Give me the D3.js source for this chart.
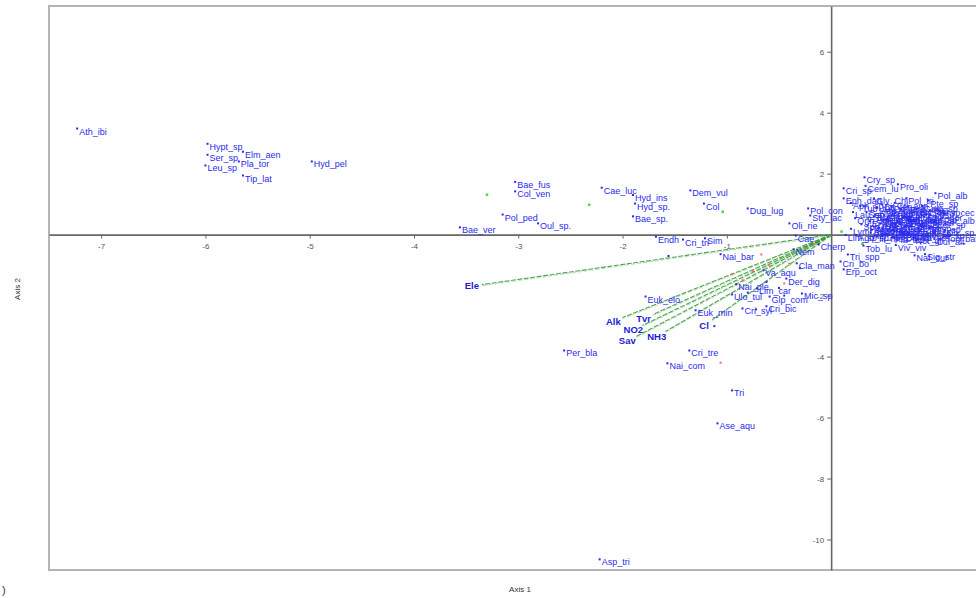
<!DOCTYPE html>
<html><head><meta charset="utf-8">
<script src="https://cdn.jsdelivr.net/npm/d3@7"></script>
<style>
body{margin:0;background:#fff;}
svg{display:block;font-family:"Liberation Sans",Arial,sans-serif;}
</style></head>
<body>
<svg id="chart" width="976" height="598"></svg>
<script>
// ---- data ----
const xTicks = [-7,-6,-5,-4,-3,-2,-1];
const yTicks = [6,4,2,-2,-4,-6,-8,-10];
const axisTitles = ["Axis 1","Axis 2"];

// species: [name, axis1, axis2]
const speciesNames = ["Ath_ibi","Hypt_sp","Ser_sp","Elm_aen","Leu_sp","Pla_tor","Tip_lat","Hyd_pel",
 "Bae_fus","Col_ven","Pol_ped","Oul_sp.","Bae_ver","Cae_luc","Hyd_ins","Hyd_sp.","Bae_sp.","Dem_vul","Col","Dug_lug",
 "Endh","Cri_tri","Sim","Nai_bar","Oli_rie","Pol_con","Sty_lac","Cae","Nem","Cherp","Cla_man","Cri_bo","Tri_spp","Erp_oct",
 "Va_aqu","Der_dig","Nai_ple","Lim_car","Ulo_tul","Glp_com","Mic_sp","Cri_syl","Cri_bic","Euk_min","Euk_elo",
 "Per_bla","Cri_tre","Nai_com","Tri","Ase_aqu","Asp_tri",
 "Cry_sp","Cri_sp","Cem_lu","Pro_oli","Pol_alb","Eph_dan","Gly_Chi","Pol_tri","Pte_sp","Rhy_cec","Par_alb",
 "Tub_tub","Lim_hof","Pot_ant","Bae_rho","Gam_sp","Ser_per","Tan_sp","Chi_pl","Mic_pus","Cae_hor","Orth_sp","Pis_sp",
 "Eis_fet","Lep_mar","Hep_sul","Cor_sp","Sph_cor","Rhy_sp","Sim_orn","Hal_sp","Psy_sp","Lym_sta","Rad_ova","Phy_fon",
 "Gyr_alb","Ana_sp","Cal_sp","Dix_sp","Ago_sp","Ili_mon","Pla_alb","Not_gl","Cul_alt","Ton_bat","Tob_lu","Viv_viv",
 "Naf_cur","Sig_str","Lim_sp","Bit_ten","Val_pis","Ery_oct","Pro_sp","Dre_pol","Gly_sp","Oec_sp","Cri_ann","Lau_sp","Aph_sp",
 "Pot_sp","Lim_cl","Hyd_ang","Psa_sp","Cyr_sp","Sph_sp","Ste_sp",
 "Bra_sow","Pot_pec","Nai_eli","Sty_her","Dic_sp","Eri_sp","Tha_sp","Pro_pu","Mac_sp","Cae_sp","Dry_sp","Hel_sp","Ase_sp","Bit_sp"];
const speciesAxis1 = [-7.23,-5.98,-5.98,-5.64,-6.0,-5.68,-5.64,-4.98,
 -3.03,-3.03,-3.15,-2.81,-3.56,-2.2,-1.9,-1.88,-1.9,-1.35,-1.22,-0.8,
 -1.68,-1.42,-1.21,-1.06,-0.4,-0.22,-0.2,-0.34,-0.36,-0.12,-0.33,0.09,0.16,0.12,
 -0.65,-0.43,-0.91,-0.71,-0.95,-0.59,-0.28,-0.85,-0.62,-1.3,-1.78,
 -2.56,-1.36,-1.57,-0.95,-1.09,-2.22,
 0.32,0.12,0.33,0.64,1.0,0.12,0.41,0.72,0.93,1.02,1.06,
 0.28,0.44,0.58,0.74,0.87,0.34,0.49,0.61,0.79,0.91,0.23,0.41,
 0.54,0.69,0.84,0.99,0.29,0.47,0.61,0.77,0.94,0.19,0.39,0.54,
 0.69,0.84,0.99,1.09,0.24,0.44,0.59,0.79,0.99,1.08,0.31,0.62,
 0.8,0.9,0.14,0.49,0.67,0.37,0.57,0.74,0.51,0.89,0.61,0.21,0.19,
 0.35,0.66,0.52,0.8,0.45,0.7,0.95,
 0.42,0.56,0.68,0.82,0.5,0.64,0.76,0.46,0.6,0.72,0.86,0.38,0.54,0.7];
const speciesAxis2 = [3.48,2.98,2.62,2.72,2.27,2.4,1.94,2.4,
 1.73,1.42,0.66,0.37,0.24,1.54,1.3,1.02,0.6,1.45,1.02,0.86,
 -0.07,-0.16,-0.12,-0.64,0.37,0.86,0.63,-0.03,-0.48,-0.32,-0.94,-0.88,-0.65,-1.14,
 -1.17,-1.44,-1.63,-1.76,-1.96,-2.03,-1.93,-2.42,-2.35,-2.48,-2.03,
 -3.8,-3.8,-4.22,-5.11,-6.19,-10.65,
 1.88,1.52,1.6,1.65,1.36,1.19,1.19,1.19,1.12,0.82,0.53,
 0.94,0.89,0.94,0.92,0.94,0.74,0.76,0.72,0.74,0.66,0.54,0.59,
 0.54,0.56,0.49,0.42,0.34,0.36,0.34,0.29,0.24,0.19,0.16,0.14,
 0.09,0.12,0.06,0.14,-0.01,-0.06,-0.08,-0.11,-0.14,-0.06,-0.36,-0.34,
 -0.68,-0.64,-0.01,0.99,0.82,0.44,0.24,0.44,0.64,0.59,1.04,0.74,1.04,
 0.3,0.1,0.5,0.0,0.2,0.6,0.8,
 0.66,0.82,0.62,0.84,0.46,0.4,0.5,0.22,0.16,0.3,0.28,0.06,0.02,0.0];

// environmental variables (biplot arrows)
const envNames = ["Ele","Alk","Tvr","NO2","Sav","NH3","Cl"];
const envAxis1 = [-3.35,-2.0,-1.71,-1.81,-1.87,-1.59,-1.14];
const envAxis2 = [-1.64,-2.72,-2.62,-2.98,-3.34,-3.18,-2.79];

// sample sites
const greenSitesAxis1 = [-3.3,-2.32,-1.04,0.35,0.1,0.3,0.6];
const greenSitesAxis2 = [1.31,0.98,0.75,0.55,0.1,-0.3,0.2];
const redSitesAxis1 = [-1.06,-0.67,-0.6,-0.4,-0.85,-0.75,-0.25,-0.45,-0.15,-0.95];
const redSitesAxis2 = [-4.2,-0.65,-1.0,-0.95,-1.5,-1.2,-0.5,-1.6,-0.3,-1.3];
const blueSitesAxis1 = [-1.56,-0.5,-0.72,-0.45,-1.12,-0.62,-0.3,-0.8];
const blueSitesAxis2 = [-0.7,-1.75,-2.45,-2.0,-3.0,-1.55,-1.1,-1.9];

// ---- drawing ----
const svg = d3.select("#chart");
const x = d3.scaleLinear().domain([-7.5,1.6]).range([49,998]);
const y = d3.scaleLinear().domain([7.5,-11.0]).range([6,570]);
const fmt = d => String(d);

// frame
svg.append("rect").attr("x",x(-7.5)).attr("y",y(7.5))
  .attr("width",x(1.6)-x(-7.5)).attr("height",y(-11)-y(7.5))
  .attr("fill","none").attr("stroke","#b4b4b4").attr("stroke-width",2);

// axes through origin
const gx = svg.append("g").attr("transform",`translate(0,${y(0)})`)
  .call(d3.axisBottom(x).tickValues(xTicks).tickSize(4).tickSizeOuter(0).tickFormat(fmt));
const gy = svg.append("g").attr("transform",`translate(${x(0)},0)`)
  .call(d3.axisLeft(y).tickValues(yTicks).tickSize(4).tickSizeOuter(0).tickFormat(fmt));
[gx,gy].forEach(g=>{
  g.select(".domain").attr("stroke","#666").attr("stroke-width",1.6);
  g.selectAll(".tick line").attr("stroke","#666");
  g.selectAll(".tick text").attr("fill","#555").style("font-size","8px");
});
gx.selectAll(".tick text").attr("dy","0.9em");

// axis titles
svg.append("text").attr("x",520).attr("y",592).attr("text-anchor","middle")
  .style("font-size","8px").attr("fill","#333").text(axisTitles[0]);
svg.append("text").attr("transform","translate(20,289) rotate(-90)").attr("text-anchor","middle")
  .style("font-size","8px").attr("fill","#333").text(axisTitles[1]);
svg.append("text").attr("x",2).attr("y",594).style("font-size","11px").attr("fill","#333").text(")");

// env arrows
const envG = svg.append("g");
envNames.forEach((n,i)=>{
  const ex=x(envAxis1[i]), ey=y(envAxis2[i]);
  envG.append("line").attr("x1",x(0)).attr("y1",y(0)).attr("x2",ex).attr("y2",ey)
    .attr("stroke","#3d9a3d").attr("stroke-width",1.1).attr("stroke-dasharray","5,1.5").attr("opacity",0.9);
  envG.append("line").attr("x1",x(0)).attr("y1",y(0)+1.2).attr("x2",ex).attr("y2",ey+1.2)
    .attr("stroke","#6cbf6c").attr("stroke-width",0.8).attr("stroke-dasharray","4,2").attr("opacity",0.6);
});

// sites
function dots(xs,ys,col,r){
  svg.append("g").selectAll("rect").data(xs.map((v,i)=>[v,ys[i]])).join("rect")
    .attr("x",d=>x(d[0])-r/2).attr("y",d=>y(d[1])-r/2).attr("width",r).attr("height",r).attr("fill",col);
}
dots(greenSitesAxis1,greenSitesAxis2,"#44dd44",2.5);
dots(redSitesAxis1,redSitesAxis2,"#ff6666",2);
dots(blueSitesAxis1,blueSitesAxis2,"#2a2ae0",2);

// species
const spG = svg.append("g");
const sp = speciesNames.map((n,i)=>({n,a:speciesAxis1[i],b:speciesAxis2[i]}));
spG.selectAll("rect").data(sp).join("rect")
  .attr("x",d=>x(d.a)-1).attr("y",d=>y(d.b)-1).attr("width",2).attr("height",2).attr("fill","#2a2ae0");
spG.selectAll("text").data(sp).join("text")
  .attr("x",d=>x(d.a)+2).attr("y",d=>y(d.b)+6)
  .attr("fill","#2a2aee").style("font-size","9px").text(d=>d.n);

// env labels
svg.append("g").selectAll("text").data(envNames.map((n,i)=>({n,a:envAxis1[i],b:envAxis2[i]}))).join("text")
  .attr("x",d=>{const dx=x(d.a)-x(0),dy=y(d.b)-y(0),l=Math.hypot(dx,dy);return x(d.a)+dx/l*10;})
  .attr("y",d=>{const dx=x(d.a)-x(0),dy=y(d.b)-y(0),l=Math.hypot(dx,dy);return y(d.b)+dy/l*10;})
  .attr("dy","0.35em").attr("text-anchor","middle")
  .attr("fill","#1c1cd0").style("font-size","9.5px").style("font-weight","bold").text(d=>d.n);
</script>
</body></html>
